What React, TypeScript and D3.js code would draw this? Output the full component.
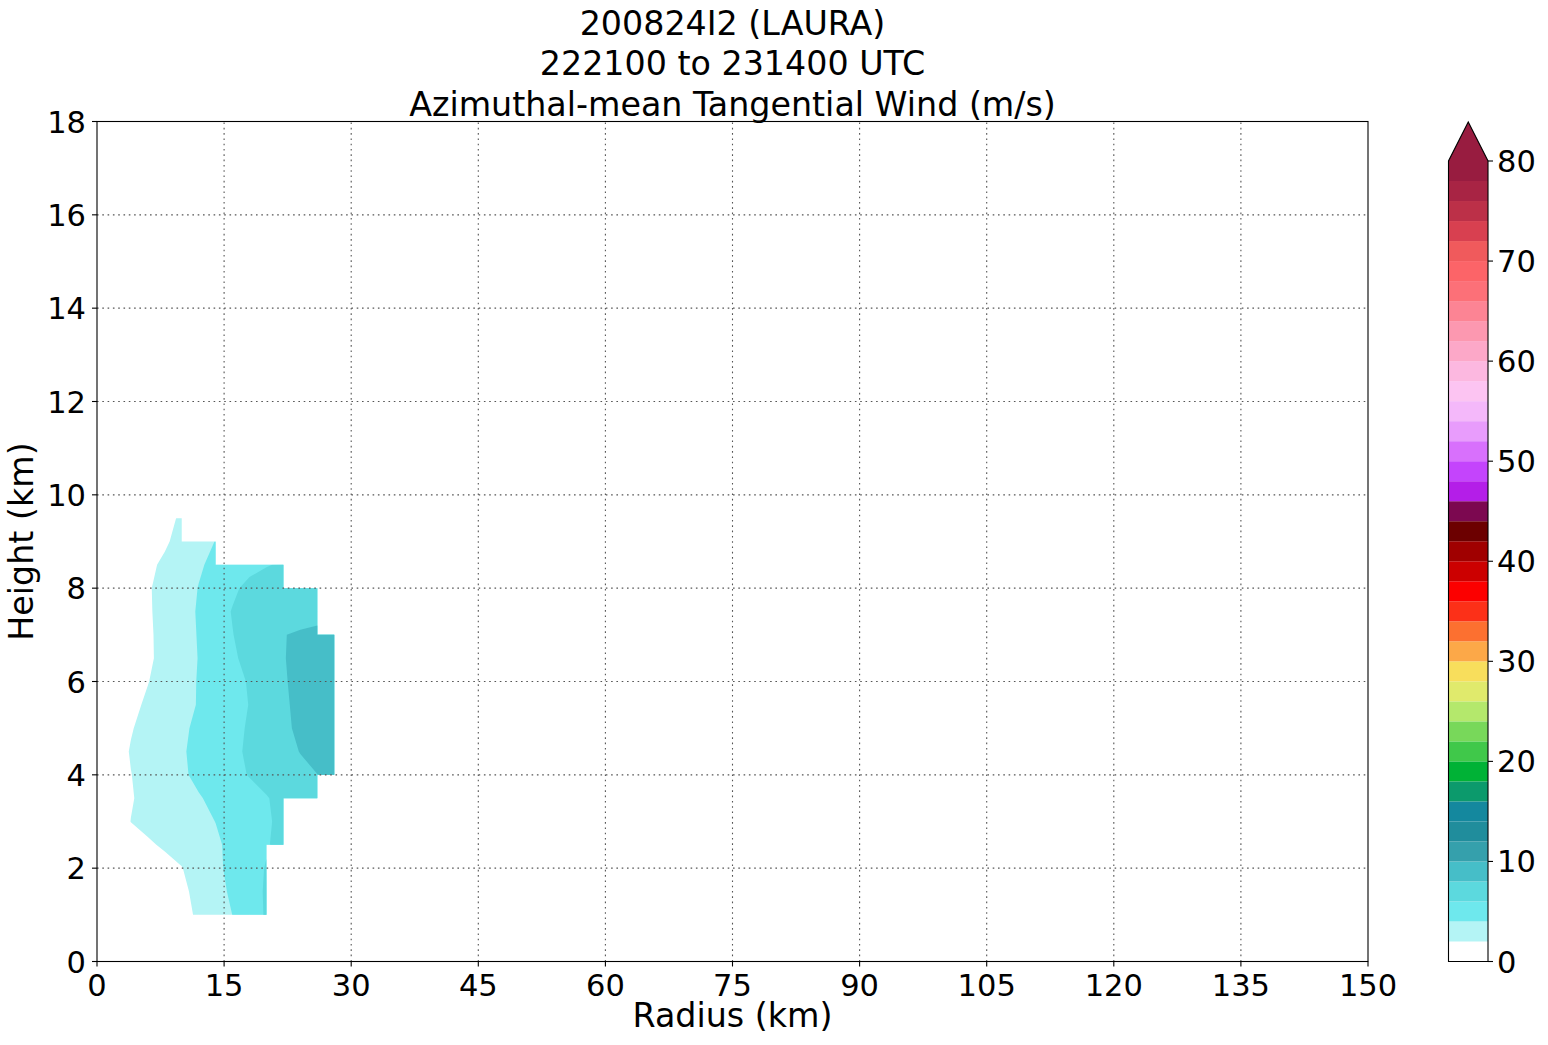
import { useEffect, useRef } from 'react';
import * as d3 from 'd3';

const W = 1548;
const H = 1045;
const PLOT = { left: 97, right: 1368, top: 121.5, bottom: 961.5 };
const CBAR = { left: 1448.5, right: 1488, top: 161, bottom: 961.5, tip: 122 };
const FONT = 'DejaVu Sans';

const titleLines = ['200824I2 (LAURA)', '222100 to 231400 UTC', 'Azimuthal-mean Tangential Wind (m/s)'];

// radius (km) and height (km) of the analysis grid
const radii = [0, 2, 4, 6, 8, 10, 12, 14, 16, 18, 20, 22, 24, 26, 28];
const heights = [1.0, 1.5, 2.0, 2.5, 3.0, 3.5, 4.0, 4.5, 5.0, 5.5, 6.0, 6.5, 7.0, 7.5, 8.0, 8.5, 9.0, 9.5];

// azimuthal-mean tangential wind (m/s), one row per height; missing radii are no data
const wind = [
  [0.2, 0.4, 0.6, 0.9, 1.2, 1.6, 2.2, 3.1, 4.02, 5.1, 6.2],
  [0.3, 0.5, 0.7, 1.0, 1.3, 1.7, 2.4, 3.4, 4.3, 5.3, 6.2],
  [0.4, 0.6, 0.9, 1.2, 1.5, 1.95, 2.7, 3.6, 4.5, 5.4, 6.1],
  [0.6, 0.9, 1.3, 1.8, 2.2, 2.6, 3.1, 3.75, 4.4, 5.0, 5.85, 6.6],
  [0.7, 1.2, 2.02, 2.4, 2.8, 3.2, 3.6, 4.02, 4.6, 5.2, 5.8, 6.4],
  [0.7, 1.1, 1.9, 2.4, 3.0, 3.4, 3.9, 4.3, 4.8, 5.3, 5.9, 6.5, 7.0, 7.6],
  [0.8, 1.2, 1.97, 2.5, 3.2, 3.8, 4.3, 4.9, 5.5, 6.1, 6.6, 7.1, 7.6, 7.98, 8.5],
  [0.8, 1.3, 2.1, 2.7, 3.3, 3.85, 4.4, 5.0, 5.6, 6.3, 6.9, 7.5, 8.05, 8.5, 8.9],
  [0.7, 1.2, 1.9, 2.5, 3.1, 3.75, 4.3, 4.9, 5.5, 6.2, 6.9, 7.7, 8.3, 8.8, 9.1],
  [0.6, 1.0, 1.6, 2.25, 2.9, 3.5, 4.1, 4.7, 5.4, 6.05, 6.8, 7.7, 8.5, 9.0, 9.3],
  [0.5, 0.9, 1.4, 1.95, 2.6, 3.4, 4.1, 4.8, 5.45, 6.15, 7.0, 7.8, 8.6, 9.1, 9.4],
  [0.5, 0.8, 1.3, 1.75, 2.45, 3.3, 4.05, 4.9, 5.7, 6.6, 7.3, 7.9, 8.6, 9.0, 9.3],
  [0.5, 0.8, 1.3, 1.75, 2.5, 3.35, 4.1, 5.1, 5.95, 6.8, 7.4, 7.95, 8.2, 8.4, 8.6],
  [0.5, 0.8, 1.3, 1.8, 2.55, 3.4, 4.15, 5.2, 6.1, 6.7, 7.0, 7.2, 7.3, 7.4],
  [0.5, 0.8, 1.3, 1.85, 2.5, 3.3, 4.05, 4.9, 5.7, 6.45, 6.9, 7.1, 7.2, 7.3],
  [0.4, 0.7, 1.2, 1.7, 2.25, 3.0, 3.8, 4.4, 5.0, 5.5, 5.9, 6.2],
  [0.4, 0.6, 0.9, 1.3, 1.8, 2.5, 3.3, 4.05],
  [0.4, 0.6, 0.9, 1.2, 1.6, 2.2],
];

// contour levels every 2 m/s from 0 to 80, with one colour per band
const levels = d3.range(0, 80, 2);
const bandColors = [
  '#ffffff', '#b4f4f5', '#6ee8ed', '#5cd9de', '#46bec8', '#35a0ac', '#208d9c', '#14889e',
  '#0c9a6c', '#00b236', '#40c84a', '#78d85a', '#b4e86c', '#e0ea6c', '#f8de5c', '#fca848',
  '#fc7030', '#fc3018', '#fc0000', '#cc0000', '#a00000', '#6c0000', '#7c0850', '#b41ee8',
  '#c444fc', '#d870fc', '#e89cfc', '#f4b8fa', '#fcc4f2', '#fcb8e0', '#fca8c8', '#fc98b0',
  '#fc8494', '#fc7078', '#fc6468', '#f05a5c', '#d84050', '#bc3048', '#a82444', '#981c40',
];
const overColor = '#981c40';

const xTicks = [0, 15, 30, 45, 60, 75, 90, 105, 120, 135, 150];
const yTicks = [0, 2, 4, 6, 8, 10, 12, 14, 16, 18];
const cbarTicks = [0, 10, 20, 30, 40, 50, 60, 70, 80];

export default function App() {
  const svgRef = useRef<SVGSVGElement>(null);

  useEffect(() => {
    const svg = d3.select(svgRef.current);
    svg.selectAll('*').remove();

    const x = d3.scaleLinear().domain([0, 150]).range([PLOT.left, PLOT.right]);
    const y = d3.scaleLinear().domain([0, 18]).range([PLOT.bottom, PLOT.top]);

    const n = radii.length;
    const m = heights.length;
    const dr = radii[1] - radii[0];
    const dh = heights[1] - heights[0];
    const val = (i: number, j: number) => {
      const v = wind[j][i];
      return v == null ? null : v;
    };

    // flat grid for marching squares, no-data filled low (it is clipped away below)
    const grid: number[] = [];
    for (let j = 0; j < m; j++) {
      for (let i = 0; i < n; i++) {
        const v = val(i, j);
        grid.push(v == null ? -1 : v);
      }
    }

    // clip to grid cells whose four corners hold data
    let clipD = '';
    for (let j = 0; j < m - 1; j++) {
      for (let i = 0; i < n - 1; i++) {
        if (val(i, j) == null || val(i + 1, j) == null || val(i, j + 1) == null || val(i + 1, j + 1) == null) continue;
        const x0 = x(radii[i]), x1 = x(radii[i + 1]);
        const y0 = y(heights[j + 1]), y1 = y(heights[j]);
        clipD += `M${x0},${y0}H${x1}V${y1}H${x0}Z`;
      }
    }
    svg.append('defs').append('clipPath').attr('id', 'data-clip')
      .append('path').attr('d', clipD);

    const contours = d3.contours().size([n, m]).thresholds(levels.slice(1))(grid);
    const proj = d3.geoTransform({
      point(px: number, py: number) {
        this.stream.point(x(radii[0] + (px - 0.5) * dr), y(heights[0] + (py - 0.5) * dh));
      },
    });
    const path = d3.geoPath(proj);

    const field = svg.append('g').attr('clip-path', 'url(#data-clip)');
    contours.forEach(c => {
      const idx = levels.indexOf(c.value);
      field.append('path')
        .attr('d', path(c as any))
        .attr('fill', bandColors[idx])
        .attr('stroke', 'none');
    });

    // dotted grid
    const grid_g = svg.append('g')
      .attr('stroke', '#555').attr('stroke-width', 1.1).attr('stroke-dasharray', '1.6,3.7');
    xTicks.slice(1, -1).forEach(t => {
      grid_g.append('line').attr('x1', x(t)).attr('x2', x(t)).attr('y1', PLOT.bottom).attr('y2', PLOT.top);
    });
    yTicks.slice(1, -1).forEach(t => {
      grid_g.append('line').attr('x1', PLOT.left).attr('x2', PLOT.right).attr('y1', y(t)).attr('y2', y(t));
    });

    // frame
    svg.append('rect')
      .attr('x', PLOT.left).attr('y', PLOT.top)
      .attr('width', PLOT.right - PLOT.left).attr('height', PLOT.bottom - PLOT.top)
      .attr('fill', 'none').attr('stroke', '#000').attr('stroke-width', 1.1);

    // ticks and tick labels
    const ax = svg.append('g').attr('font-family', FONT).attr('font-size', 30.5).attr('fill', '#000');
    xTicks.forEach(t => {
      ax.append('line').attr('x1', x(t)).attr('x2', x(t)).attr('y1', PLOT.bottom).attr('y2', PLOT.bottom + 5)
        .attr('stroke', '#000').attr('stroke-width', 1.1);
      ax.append('text').attr('x', x(t)).attr('y', 996).attr('text-anchor', 'middle').text(t);
    });
    yTicks.forEach(t => {
      ax.append('line').attr('x1', PLOT.left - 5).attr('x2', PLOT.left).attr('y1', y(t)).attr('y2', y(t))
        .attr('stroke', '#000').attr('stroke-width', 1.1);
      ax.append('text').attr('x', 86).attr('y', y(t) + 11).attr('text-anchor', 'end').text(t);
    });

    // axis labels and title
    const lab = svg.append('g').attr('font-family', FONT).attr('font-size', 33.3).attr('fill', '#000');
    lab.append('text').attr('x', (PLOT.left + PLOT.right) / 2).attr('y', 1027)
      .attr('text-anchor', 'middle').text('Radius (km)');
    lab.append('text')
      .attr('transform', `translate(33,${(PLOT.top + PLOT.bottom) / 2}) rotate(-90)`)
      .attr('text-anchor', 'middle').text('Height (km)');
    titleLines.forEach((t, i) => {
      lab.append('text').attr('x', (PLOT.left + PLOT.right) / 2).attr('y', 34.5 + i * 40.8)
        .attr('text-anchor', 'middle').text(t);
    });

    // colour bar
    const cy = d3.scaleLinear().domain([0, 80]).range([CBAR.bottom, CBAR.top]);
    const cb = svg.append('g');
    levels.forEach((lv, i) => {
      cb.append('rect')
        .attr('x', CBAR.left).attr('y', cy(lv + 2))
        .attr('width', CBAR.right - CBAR.left).attr('height', cy(lv) - cy(lv + 2))
        .attr('fill', bandColors[i]);
    });
    const mid = (CBAR.left + CBAR.right) / 2;
    cb.append('path')
      .attr('d', `M${CBAR.left},${CBAR.top}L${mid},${CBAR.tip}L${CBAR.right},${CBAR.top}Z`)
      .attr('fill', overColor);
    cb.append('path')
      .attr('d', `M${CBAR.left},${CBAR.bottom}V${CBAR.top}L${mid},${CBAR.tip}L${CBAR.right},${CBAR.top}V${CBAR.bottom}Z`)
      .attr('fill', 'none').attr('stroke', '#000').attr('stroke-width', 1.1);
    const cbt = svg.append('g').attr('font-family', FONT).attr('font-size', 30.5).attr('fill', '#000');
    cbarTicks.forEach(t => {
      cbt.append('line').attr('x1', CBAR.right).attr('x2', CBAR.right + 5).attr('y1', cy(t)).attr('y2', cy(t))
        .attr('stroke', '#000').attr('stroke-width', 1.1);
      cbt.append('text').attr('x', 1497).attr('y', cy(t) + 11).text(t);
    });
  }, []);

  return (
    <svg ref={svgRef} width={W} height={H}
      style={{ position: 'absolute', left: 0, top: 0, background: '#fff' }} />
  );
}
